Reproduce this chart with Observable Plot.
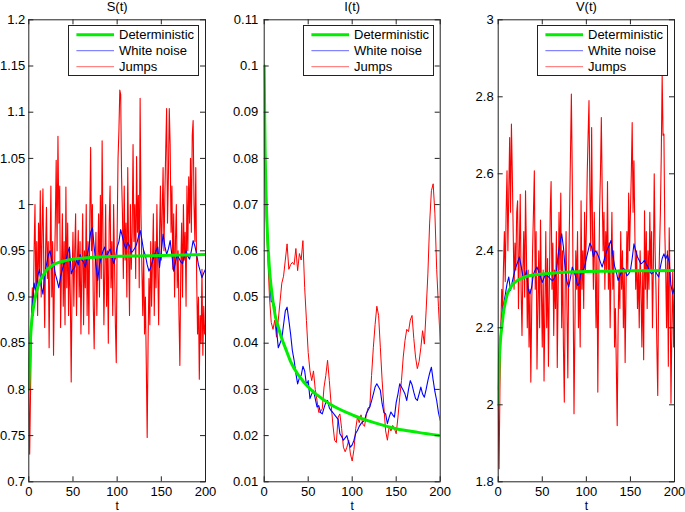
<!DOCTYPE html>
<html><head><meta charset="utf-8">
<script src="https://cdn.jsdelivr.net/npm/d3@7"></script>
<script src="https://cdn.jsdelivr.net/npm/@observablehq/plot@0.6"></script>
<style>
body{margin:0;background:#fff;}
#chart{position:relative;width:685px;height:512px;font-family:"Liberation Sans",Arial,Helvetica,sans-serif;overflow:hidden;}
#chart > svg{position:absolute;top:0;}
.legend{position:absolute;top:25px;height:51px;width:131px;border:1px solid #222;background:#fff;box-sizing:border-box;}
.legend svg{position:absolute;left:0;top:0;}
</style></head><body><div id="chart"></div>
<script>
// ---- time grids ----
const tFine = d3.range(0, 201, 1);
const tCoarse = d3.range(0, 201, 2);
const tDet = [0,0.5,1,1.5,2,3,4,5,6,8,10,13,16,20,25,30,40,50,60,75,100,125,150,175,200];
const xTicks = [0,50,100,150,200];

// ---- S(t) ----
const detS = [0.80,0.818,0.833,0.846,0.856,0.870,0.880,0.887,0.893,0.903,0.910,0.918,0.923,0.929,0.933,0.936,0.939,0.941,0.942,0.943,0.944,0.9445,0.945,0.9455,0.946];
const noiseS = [
0.80,0.86,0.89,0.915,0.905,0.922,0.93,0.912,0.903,0.925,
0.935,0.945,0.95,0.94,0.936,0.925,0.918,0.91,0.922,0.93,
0.936,0.94,0.948,0.954,0.925,0.93,0.932,0.94,0.935,0.946,
0.94,0.938,0.932,0.945,0.954,0.97,0.975,0.954,0.935,0.918,
0.935,0.943,0.95,0.954,0.943,0.948,0.952,0.945,0.936,0.942,
0.954,0.96,0.973,0.965,0.957,0.952,0.959,0.955,0.948,0.95,
0.953,0.957,0.965,0.972,0.962,0.95,0.945,0.935,0.928,0.932,
0.939,0.945,0.95,0.954,0.932,0.95,0.968,0.955,0.946,0.952,
0.961,0.945,0.928,0.938,0.946,0.942,0.938,0.936,0.945,0.95,
0.944,0.941,0.95,0.961,0.955,0.946,0.935,0.928,0.921,0.926,
0.93];
const jumpS = [
0.80,0.73,0.80,0.87,0.91,0.88,0.95,1.00,0.90,0.96,
0.88,0.98,0.93,1.015,0.90,0.97,1.017,0.93,0.867,0.95,
0.997,0.92,0.96,0.845,0.94,1.02,0.90,0.96,0.837,0.92,
0.98,1.048,0.95,1.074,0.98,1.02,0.867,0.93,0.99,0.89,
0.96,0.87,1.019,0.91,0.98,0.88,0.95,0.90,0.808,0.92,
0.97,0.89,0.95,0.99,0.88,0.94,0.972,0.90,0.96,0.86,
0.93,0.99,0.87,0.95,0.91,1.00,0.88,0.96,0.86,0.98,
1.062,0.95,1.00,0.89,0.844,0.93,0.97,0.88,0.94,0.99,
0.90,1.01,0.92,1.069,0.96,0.87,0.93,1.00,0.89,0.95,
0.85,0.98,1.02,0.91,0.96,0.88,1.00,0.94,0.87,0.829,
0.97,1.05,1.08,1.124,1.119,1.03,0.99,0.92,1.02,0.94,
0.98,0.90,1.04,0.95,0.88,1.00,0.93,0.97,1.065,0.96,
1.00,0.92,1.052,0.97,1.01,0.91,1.115,0.99,0.93,0.88,
0.95,0.86,0.90,0.826,0.748,0.85,0.92,0.87,0.96,0.89,
0.94,0.99,0.88,0.96,0.91,1.00,0.93,0.87,0.97,1.02,
0.94,0.99,1.04,0.95,1.01,1.06,1.104,0.98,1.03,1.104,
1.065,0.97,1.02,0.93,0.99,0.90,0.96,1.00,0.91,0.95,
0.88,0.826,0.93,0.98,0.90,1.00,0.94,0.97,0.89,1.02,
0.95,1.03,0.98,1.05,0.97,1.075,1.091,1.00,0.96,1.04,
0.92,0.86,0.90,0.811,0.88,0.85,0.93,0.837,0.89,0.86,
0.87];
const yTicksS = [0.7,0.75,0.8,0.85,0.9,0.95,1,1.05,1.1,1.15,1.2];

// ---- I(t) ----
const detI = [0.1,0.09,0.082,0.077,0.073,0.067,0.062,0.059,0.056,0.052,0.049,0.0455,0.0435,0.041,0.0385,0.036,0.0328,0.0305,0.0288,0.0268,0.0245,0.0228,0.0215,0.0207,0.0200];
const noiseI = [
0.1,0.072,0.062,0.054,0.049,0.049,0.048,0.043,0.039,0.04,
0.041,0.044,0.047,0.0478,0.045,0.042,0.0384,0.0363,0.0334,0.0312,
0.0325,0.033,0.035,0.034,0.031,0.0319,0.028,0.029,0.0298,0.028,
0.0262,0.0265,0.025,0.0247,0.026,0.0272,0.0276,0.026,0.0254,0.025,
0.0245,0.024,0.0235,0.0204,0.0198,0.019,0.0195,0.02,0.0185,0.0175,
0.018,0.019,0.0205,0.0211,0.022,0.0226,0.023,0.0233,0.0247,0.0255,
0.0262,0.0275,0.029,0.0305,0.0312,0.0305,0.0298,0.0269,0.025,0.0247,
0.0226,0.024,0.0251,0.0245,0.024,0.0272,0.029,0.0312,0.0305,0.0298,
0.029,0.0276,0.03,0.0319,0.031,0.0294,0.028,0.0276,0.029,0.0305,
0.029,0.0283,0.03,0.0319,0.0335,0.0348,0.032,0.0295,0.0276,0.025,
0.0233];
const jumpI = [
0.1,0.069,0.059,0.05,0.0445,0.043,0.045,0.0413,0.045,0.049,
0.053,0.0545,0.058,0.0615,0.056,0.057,0.0575,0.057,0.0605,0.0557,
0.0594,0.058,0.0622,0.052,0.0449,0.038,0.034,0.0319,0.034,0.03,
0.0276,0.025,0.0252,0.0258,0.0305,0.033,0.0363,0.0319,0.0269,0.0225,
0.019,0.0185,0.024,0.0247,0.0215,0.0175,0.0165,0.0175,0.019,0.016,
0.0145,0.017,0.0215,0.024,0.0228,0.0245,0.0225,0.022,0.0245,0.026,
0.0262,0.033,0.039,0.044,0.048,0.046,0.039,0.032,0.0262,0.021,
0.019,0.022,0.021,0.0222,0.0215,0.0204,0.024,0.0283,0.0319,0.037,
0.0406,0.043,0.0425,0.045,0.046,0.041,0.037,0.0345,0.036,0.039,
0.0427,0.0398,0.047,0.055,0.066,0.073,0.0745,0.068,0.056,0.048,
0.0406];
const yTicksI = [0.01,0.02,0.03,0.04,0.05,0.06,0.07,0.08,0.09,0.1,0.11];

// ---- V(t) ----
const detV = [2.0,2.06,2.1,2.13,2.15,2.18,2.2,2.22,2.24,2.265,2.285,2.30,2.312,2.32,2.327,2.332,2.337,2.34,2.342,2.344,2.346,2.347,2.348,2.3485,2.349];
const noiseV = [
2.04,2.16,2.23,2.26,2.285,2.314,2.332,2.297,2.32,2.34,
2.358,2.37,2.384,2.36,2.335,2.33,2.349,2.3,2.288,2.306,
2.34,2.35,2.358,2.345,2.332,2.318,2.33,2.34,2.335,2.33,
2.325,2.323,2.33,2.345,2.39,2.42,2.444,2.41,2.35,2.32,
2.306,2.33,2.358,2.345,2.332,2.31,2.315,2.345,2.35,2.358,
2.38,2.4,2.42,2.41,2.384,2.4,2.395,2.384,2.37,2.358,
2.375,2.392,2.405,2.415,2.427,2.39,2.36,2.345,2.323,2.335,
2.345,2.355,2.35,2.335,2.34,2.349,2.38,2.418,2.4,2.384,
2.375,2.366,2.37,2.375,2.365,2.358,2.345,2.34,2.345,2.349,
2.34,2.332,2.358,2.38,2.392,2.379,2.39,2.37,2.31,2.288,
2.306];
const jumpV = [
2.0,1.834,2.05,2.2,2.3,2.25,2.36,2.45,2.32,2.5,
2.608,2.4,2.55,2.694,2.5,2.729,2.6,2.45,2.3,2.42,
2.35,2.5,2.53,2.25,2.4,2.547,2.3,2.18,2.35,2.45,
2.28,2.556,2.4,2.2,2.35,2.15,2.3,2.059,2.25,2.4,
2.5,2.608,2.3,2.45,2.093,2.25,2.4,2.2,2.48,2.3,
2.15,2.35,2.062,2.25,2.45,2.2,2.38,2.1,2.3,2.5,
2.58,2.3,2.42,2.18,2.35,2.25,2.45,2.097,2.3,2.5,
2.35,2.55,2.2,2.4,2.15,2.007,2.3,2.45,2.25,2.07,
2.35,2.5,2.65,2.807,2.6,2.3,1.977,2.2,2.4,2.3,
2.45,2.2,2.35,2.15,2.53,2.3,2.4,2.25,2.5,2.35,
2.45,2.6,2.7,2.79,2.55,2.4,2.72,2.45,2.3,2.5,
2.35,2.2,2.4,2.033,2.3,2.5,2.6,2.746,2.55,2.4,
2.5,2.3,2.45,2.35,2.58,2.3,2.42,2.2,2.35,2.5,
2.3,2.4,2.15,2.25,2.1,1.946,2.2,2.35,2.25,2.45,
2.3,2.4,2.2,2.35,2.11,2.3,2.45,2.35,2.55,2.4,
2.5,2.6,2.733,2.5,2.634,2.45,2.3,2.4,2.25,2.35,
2.2,2.4,2.3,2.15,2.35,2.117,2.504,2.3,2.45,2.25,
2.4,2.3,2.5,2.35,2.45,2.2,2.35,2.6,2.4,2.3,
2.15,2.024,2.3,2.4,2.5,2.65,2.855,2.7,2.703,2.45,
2.35,2.2,2.4,2.1,2.46,2.3,2.004,2.2,2.35,2.15,
2.3];
const yTicksV = [1.8,2,2.2,2.4,2.6,2.8,3];

const seriesNames = ["Deterministic","White noise","Jumps"];
const colGreen = "#00ee00", colBlue = "#0000ff", colRed = "#ff0000", axisCol = "#222";
const FONT = '"Liberation Sans", Arial, Helvetica, sans-serif';

const chart = document.getElementById("chart");

function panel(cfg) {
  const H = 512, mt = 19.3, mb = 30.7;
  const aw = cfg.width - cfg.ml - cfg.mr, ah = H - mt - mb;
  const redData = cfg.jumpT.map((t, i) => ({t, v: cfg.jump[i]}));
  const blueData = cfg.noiseT.map((t, i) => ({t, v: cfg.noise[i]}));
  const greenData = tDet.map((t, i) => ({t, v: cfg.det[i]}));
  const svg = Plot.plot({
    width: cfg.width, height: H,
    marginLeft: cfg.ml, marginRight: cfg.mr, marginTop: mt, marginBottom: mb,
    style: {fontFamily: FONT, fontSize: "13px", color: "#000", background: "transparent", overflow: "visible"},
    x: {domain: [0, 200]},
    y: {domain: cfg.yDomain},
    marks: [
      Plot.line(redData, {x: "t", y: "v", stroke: colRed, strokeWidth: cfg.redW, clip: true}),
      Plot.line(blueData, {x: "t", y: "v", stroke: colBlue, strokeWidth: 1.1, clip: true}),
      Plot.line(greenData, {x: "t", y: "v", stroke: colGreen, strokeWidth: 3, clip: true, curve: "monotone-x"}),
      Plot.frame({stroke: axisCol}),
      Plot.tickY(cfg.yTicks, {y: d => d, insetRight: aw - 5, stroke: axisCol}),
      Plot.tickY(cfg.yTicks, {y: d => d, insetLeft: aw - 5, stroke: axisCol}),
      Plot.tickX(xTicks, {x: d => d, insetTop: ah - 5, stroke: axisCol}),
      Plot.tickX(xTicks, {x: d => d, insetBottom: ah - 5, stroke: axisCol}),
      Plot.axisY(cfg.yTicks, {tickSize: 0, tickPadding: cfg.pad, tickFormat: d => String(d), label: null, fill: "#000"}),
      Plot.axisX(xTicks, {tickSize: 0, tickPadding: 5, tickFormat: d => String(d), label: null, fill: "#000"}),
      Plot.text([cfg.title], {text: d => d, frameAnchor: "top", dy: -8.5, lineAnchor: "bottom", fill: "#000"}),
      Plot.text(["t"], {text: d => d, frameAnchor: "bottom", dy: 28, lineAnchor: "bottom", fill: "#000", fontSize: 12})
    ]
  });
  svg.style.left = cfg.left + "px";
  chart.appendChild(svg);

  // legend box
  const lg = document.createElement("div");
  lg.className = "legend";
  lg.style.left = (cfg.left + cfg.width - cfg.mr - 6 - 131) + "px";
  const ns = "http://www.w3.org/2000/svg";
  const ls = document.createElementNS(ns, "svg");
  ls.setAttribute("width", 129); ls.setAttribute("height", 49);
  const cols = [colGreen, colBlue, colRed], widths = [3, 0.6, 0.6];
  seriesNames.forEach((name, i) => {
    const y = 8.7 + i * 16;
    const ln = document.createElementNS(ns, "line");
    ln.setAttribute("x1", 7.4); ln.setAttribute("x2", 45); ln.setAttribute("y1", y); ln.setAttribute("y2", y);
    ln.setAttribute("stroke", cols[i]); ln.setAttribute("stroke-width", widths[i]);
    ls.appendChild(ln);
    const tx = document.createElementNS(ns, "text");
    tx.setAttribute("x", 50); tx.setAttribute("y", y + 4.6);
    tx.setAttribute("font-family", FONT); tx.setAttribute("font-size", 13);
    tx.textContent = name;
    ls.appendChild(tx);
  });
  lg.appendChild(ls);
  chart.appendChild(lg);
}

panel({left: 0, width: 230, ml: 28.3, mr: 25, yDomain: [0.7, 1.2], yTicks: yTicksS, pad: 3.5, title: "S(t)", det: detS, noiseT: tCoarse, noise: noiseS, jumpT: tFine, jump: jumpS, redW: 1.1});
panel({left: 230, width: 228, ml: 33.7, mr: 18.3, yDomain: [0.01, 0.11], yTicks: yTicksI, pad: 6, title: "I(t)", det: detI, noiseT: tCoarse, noise: noiseI, jumpT: tCoarse, jump: jumpI, redW: 1});
panel({left: 458, width: 227, ml: 39.7, mr: 11, yDomain: [1.8, 3], yTicks: yTicksV, pad: 4.5, title: "V(t)", det: detV, noiseT: tCoarse, noise: noiseV, jumpT: tFine, jump: jumpV, redW: 1.1});
</script></body></html>
